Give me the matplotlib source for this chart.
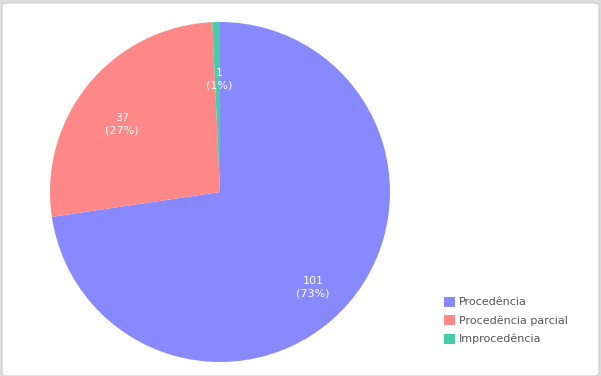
import numpy as np
import matplotlib
matplotlib.use("Agg")
import matplotlib.pyplot as plt
from matplotlib.patches import FancyBboxPatch, Patch

labels = ["Procedência", "Procedência parcial", "Improcedência"]
values = [101, 37, 1]
colors = ["#8889fe", "#fe8888", "#47cca9"]
# value label placement: fraction of radius and angle shift from wedge middle
label_r = [0.785, 0.70, 0.665]
label_shift = [-5.0, 4.7, -0.8]

W, H = 601, 376
fig = plt.figure(figsize=(W / 100, H / 100), dpi=100)
fig.patch.set_facecolor("#dddddd")

# white card with rounded corners
card = FancyBboxPatch((2 / W, 0), (W - 4) / W, (H - 3) / H,
                      boxstyle="round,pad=0,rounding_size=0.008",
                      transform=fig.transFigure, facecolor="white",
                      edgecolor="#d0d0d0", linewidth=0.8, zorder=-5)
fig.patches.append(card)

cx, cy, r = 220, 192, 170
ax = fig.add_axes([(cx - r) / W, (H - cy - r) / H, 2 * r / W, 2 * r / H])
ax.set_zorder(2)
ax.patch.set_alpha(0)
wedges, _ = ax.pie(values, colors=colors, startangle=90, counterclock=False,
                   radius=1, wedgeprops=dict(linewidth=0))
ax.set_aspect("equal")
ax.set_xlim(-1, 1)
ax.set_ylim(-1, 1)

total = sum(values)
for w, v, d, s in zip(wedges, values, label_r, label_shift):
    ang = np.deg2rad((w.theta1 + w.theta2) / 2 + s)
    pct = round(100 * v / total)
    ax.text(d * np.cos(ang), d * np.sin(ang), f"{v}\n({pct}%)",
            ha="center", va="center", color="white", fontsize=8,
            linespacing=1.3)

handles = [Patch(facecolor=c, edgecolor="none") for c in colors]
leg = fig.legend(handles, labels, loc="upper left",
                 bbox_to_anchor=(438 / W, 1 - 291 / H), frameon=False,
                 fontsize=8, handlelength=1.0, handleheight=1.0,
                 handletextpad=0.4, labelspacing=0.7, borderpad=0)
leg.set_zorder(3)
for t in leg.get_texts():
    t.set_color("#555555")

fig.savefig("out.png", dpi=100, facecolor=fig.get_facecolor())
